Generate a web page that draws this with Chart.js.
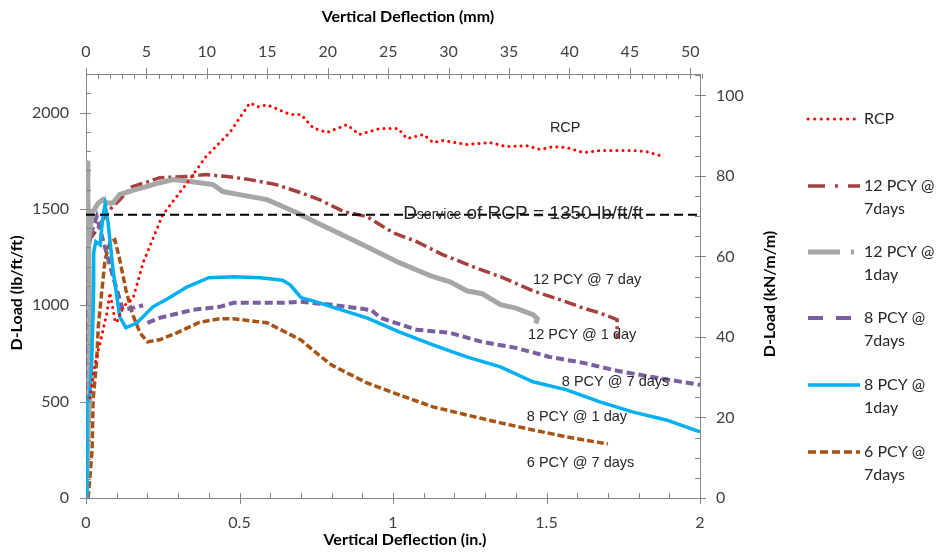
<!DOCTYPE html>
<html>
<head>
<meta charset="utf-8">
<script src="https://cdn.jsdelivr.net/npm/chart.js@4/dist/chart.umd.min.js"></script>
<style>
  html, body { margin: 0; padding: 0; background: #ffffff; }
  canvas { display: block; }
</style>
</head>
<body>
<canvas id="grafico" width="943" height="559"></canvas>
<script>
// tick labels
const xInTicks = [0, 0.5, 1, 1.5, 2];
const xMmTicks = [0, 5, 10, 15, 20, 25, 30, 35, 40, 45, 50];
const yLbTicks = [0, 500, 1000, 1500, 2000];
const yKnTicks = [0, 20, 40, 60, 80, 100];

// series (x in inches, y in lb/ft/ft)
const rcpX = [0.013, 0.03, 0.046, 0.068, 0.078, 0.094, 0.1, 0.12, 0.153, 0.186, 0.25, 0.33, 0.39, 0.47, 0.534, 0.56, 0.59, 0.62, 0.665, 0.7, 0.74, 0.785, 0.85, 0.89, 0.958, 1.017, 1.045, 1.1, 1.13, 1.163, 1.24, 1.316, 1.37, 1.435, 1.48, 1.52, 1.566, 1.62, 1.675, 1.78, 1.826, 1.88];
const rcpY = [520, 700, 805, 960, 1065, 925, 909, 992, 1034, 1220, 1470, 1636, 1770, 1900, 2050, 2030, 2040, 2020, 1990, 1990, 1920, 1896, 1937, 1886, 1917, 1917, 1865, 1886, 1844, 1855, 1834, 1844, 1823, 1828, 1808, 1823, 1818, 1792, 1803, 1803, 1797, 1772];

const p12d7X = [0, 0.004, 0.01, 0.02, 0.035, 0.055, 0.08, 0.11, 0.15, 0.2, 0.24, 0.33, 0.39, 0.46, 0.534, 0.62, 0.7, 0.76, 0.84, 0.915, 1.0, 1.077, 1.163, 1.26, 1.35, 1.456, 1.544, 1.62, 1.674, 1.73, 1.73];
const p12d7Y = [1750, 1600, 1420, 1360, 1390, 1444, 1500, 1548, 1615, 1640, 1662, 1668, 1678, 1668, 1652, 1626, 1584, 1548, 1486, 1460, 1377, 1330, 1262, 1200, 1148, 1075, 1029, 985, 960, 925, 830];

const p12d1X = [0, 0.01, 0.012, 0.004, 0.006, 0.01, 0.02, 0.04, 0.055, 0.07, 0.088, 0.11, 0.13, 0.16, 0.186, 0.24, 0.283, 0.34, 0.414, 0.446, 0.5, 0.59, 0.665, 0.7, 0.75, 0.8, 0.915, 1.02, 1.13, 1.186, 1.24, 1.29, 1.35, 1.4, 1.456, 1.47, 1.465];
const p12d1Y = [0, 500, 1000, 1750, 1550, 1350, 1480, 1530, 1548, 1530, 1532, 1575, 1584, 1600, 1610, 1636, 1652, 1642, 1626, 1590, 1574, 1548, 1496, 1470, 1429, 1392, 1304, 1221, 1148, 1122, 1075, 1060, 1003, 985, 951, 930, 905];

const p8d7X = [0, 0.002, 0.003, 0.0, 0.02, 0.035, 0.055, 0.088, 0.12, 0.15, 0.186, 0.193, 0.2, 0.24, 0.35, 0.436, 0.48, 0.64, 0.7, 0.8, 0.93, 0.958, 1.077, 1.186, 1.29, 1.4, 1.51, 1.62, 1.73, 1.84, 2.0];
const p8d7Y = [0, 600, 1000, 1236, 1392, 1460, 1340, 1148, 977, 985, 1000, null, 909, 935, 977, 992, 1013, 1013, 1018, 1003, 975, 935, 873, 857, 810, 779, 732, 701, 660, 629, 587];

const p8d1X = [0, 0.003, 0.013, 0.018, 0.022, 0.025, 0.025, 0.032, 0.046, 0.055, 0.062, 0.072, 0.088, 0.11, 0.13, 0.166, 0.218, 0.26, 0.33, 0.4, 0.48, 0.567, 0.64, 0.665, 0.687, 0.7, 0.75, 0.8, 0.915, 1.02, 1.13, 1.24, 1.35, 1.456, 1.566, 1.674, 1.78, 1.89, 2.0];
const p8d1Y = [0, 490, 545, 680, 890, 1100, 1273, 1330, 1314, 1460, 1522, 1429, 1184, 940, 883, 909, 992, 1029, 1096, 1143, 1148, 1143, 1130, 1106, 1065, 1040, 1018, 992, 935, 862, 795, 732, 680, 603, 561, 499, 447, 405, 343];

const p6d7X = [0.007, 0.02, 0.023, 0.035, 0.04, 0.05, 0.062, 0.078, 0.094, 0.11, 0.13, 0.15, 0.176, 0.2, 0.24, 0.296, 0.37, 0.436, 0.48, 0.59, 0.7, 0.76, 0.8, 0.915, 1.02, 1.13, 1.24, 1.35, 1.456, 1.566, 1.7];
const p6d7Y = [0, 250, 509, 717, 888, 1050, 1236, 1325, 1340, 1236, 1080, 961, 857, 810, 821, 857, 912, 930, 930, 909, 820, 740, 690, 597, 535, 473, 431, 390, 353, 317, 280];

const serviceX = [0, 2];
const serviceY = [1470, 1470];

const legendLabels = [["RCP"], ["12 PCY @", "7days"], ["12 PCY @", "1day"], ["8 PCY @", "7days"], ["8 PCY @", "1day"], ["6 PCY @", "7days"]];
const noteLabels = ["RCP", "12 PCY @ 7 day", "12 PCY @ 1 day", "8 PCY @ 7 days", "8 PCY @ 1 day", "6 PCY @ 7 days"];

const LB_TO_KN = 0.04788;
const Y_MAX = 2200;

function pares(xs, ys) {
  return xs.map((x, i) => ({ x: x, y: ys[i] }));
}

const estilos = [
  { color: "#FF0000", width: 3, dash: [0.1, 6], cap: "round", legendDash: [0.1, 6.5] },
  { color: "#A5403C", width: 3.5, dash: [12, 4, 3, 4], cap: "butt", legendDash: [17, 10, 3, 10] },
  { color: "#A6A6A6", width: 5, dash: [], cap: "butt", legendDash: [32, 11, 3, 11] },
  { color: "#7A5F9E", width: 4, dash: [8, 4], cap: "butt", legendDash: [15, 13] },
  { color: "#00B0F0", width: 3.5, dash: [], cap: "butt", legendDash: [] },
  { color: "#A65314", width: 3.5, dash: [7, 3], cap: "butt", legendDash: [8, 4] }
];

const datos = [
  pares(rcpX, rcpY), pares(p12d7X, p12d7Y), pares(p12d1X, p12d1Y),
  pares(p8d7X, p8d7Y), pares(p8d1X, p8d1Y), pares(p6d7X, p6d7Y)
];
const ordenDibujo = [1, 5, 3, 4, 2, 6];

const datasets = datos.map((d, i) => ({
  label: legendLabels[i].join(" "),
  data: d,
  borderColor: estilos[i].color,
  borderWidth: estilos[i].width,
  borderDash: estilos[i].dash,
  borderCapStyle: estilos[i].cap,
  pointRadius: 0,
  tension: 0,
  spanGaps: false,
  order: ordenDibujo[i],
  xAxisID: "x",
  yAxisID: "y"
}));
datasets.push({
  label: "service",
  data: pares(serviceX, serviceY),
  borderColor: "#000000",
  borderWidth: 2,
  borderDash: [9, 5],
  pointRadius: 0,
  order: 0,
  xAxisID: "x",
  yAxisID: "y"
});

const notas = [
  { x: 1.511, y: 1922 },
  { x: 1.456, y: 1132 },
  { x: 1.44, y: 847 },
  { x: 1.55, y: 603 },
  { x: 1.436, y: 421 },
  { x: 1.436, y: 182 }
];

const EJE = "#868686";
const TEXTO = "#404040";

const decoracion = {
  id: "decoracion",
  afterDraw(chart) {
    const ctx = chart.ctx;
    const a = chart.chartArea;
    const s = chart.scales;
    ctx.save();

    // ticks: major cross, minor inside
    ctx.strokeStyle = EJE;
    ctx.lineWidth = 1;
    function marcas(scale, paso, mayores, lado) {
      const n = Math.round((scale.max - scale.min) / paso);
      for (let k = 0; k <= n; k++) {
        const v = scale.min + k * paso;
        const esMayor = mayores.some(m => Math.abs(m - v) < paso / 10);
        const p = Math.round(scale.getPixelForValue(v)) + 0.5;
        ctx.beginPath();
        if (lado === "bottom") {
          ctx.moveTo(p, a.bottom - 5); ctx.lineTo(p, a.bottom + (esMayor ? 6 : 0));
        } else if (lado === "top") {
          ctx.moveTo(p, a.top + 5); ctx.lineTo(p, a.top - (esMayor ? 6 : 0));
        } else if (lado === "left") {
          ctx.moveTo(a.left + 5, p); ctx.lineTo(a.left - (esMayor ? 6 : 0), p);
        } else {
          ctx.moveTo(a.right - 5, p); ctx.lineTo(a.right + (esMayor ? 6 : 0), p);
        }
        ctx.stroke();
      }
    }
    marcas(s.x, 0.1, xInTicks, "bottom");
    marcas(s.x2, 1, xMmTicks, "top");
    marcas(s.y, 100, yLbTicks, "left");
    marcas(s.y2, 5, yKnTicks, "right");

    // axis titles
    ctx.fillStyle = "#000000";
    ctx.font = "bold 16px Lato";
    ctx.textAlign = "center";
    ctx.textBaseline = "middle";
    ctx.fillText("Vertical Deflection (mm)", 408, 17);
    ctx.fillText("Vertical Deflection (in.)", 405, 540);
    ctx.save();
    ctx.translate(17, 293);
    ctx.rotate(-Math.PI / 2);
    ctx.fillText("D-Load (lb/ft/ft)", 0, 0);
    ctx.restore();
    ctx.save();
    ctx.translate(770, 294);
    ctx.rotate(-Math.PI / 2);
    ctx.fillText("D-Load (kN/m/m)", 0, 0);
    ctx.restore();

    // curve notes
    ctx.fillStyle = "#262626";
    ctx.font = "14.5px 'Liberation Sans'";
    ctx.textAlign = "left";
    notas.forEach((n, i) => {
      ctx.fillText(noteLabels[i], s.x.getPixelForValue(n.x), s.y.getPixelForValue(n.y));
    });

    // service line label
    ctx.textBaseline = "alphabetic";
    let px = s.x.getPixelForValue(1.033);
    const py = s.y.getPixelForValue(1448);
    ctx.font = "19px 'Liberation Sans'";
    ctx.fillText("D", px, py);
    px += ctx.measureText("D").width;
    ctx.font = "14px 'Liberation Sans'";
    ctx.fillText("service", px, py);
    px += ctx.measureText("service").width;
    ctx.font = "19px 'Liberation Sans'";
    ctx.fillText(" of RCP = 1350 lb/ft/ft", px, py);

    // legend
    const filaY = [119, 186, 252, 318, 385, 452];
    ctx.font = "16px Lato";
    ctx.textBaseline = "middle";
    legendLabels.forEach((lineas, i) => {
      const e = estilos[i];
      ctx.strokeStyle = e.color;
      ctx.lineWidth = e.width;
      ctx.lineCap = e.cap;
      ctx.setLineDash(e.legendDash);
      ctx.beginPath();
      ctx.moveTo(808, filaY[i]);
      ctx.lineTo(860, filaY[i]);
      ctx.stroke();
      ctx.setLineDash([]);
      ctx.lineCap = "butt";
      ctx.fillStyle = "#262626";
      lineas.forEach((t, j) => ctx.fillText(t, 864, filaY[i] + j * 23));
    });

    ctx.restore();
  }
};

function fijarTicks(valores) {
  return scale => { scale.ticks = valores.map(v => ({ value: v })); };
}

const fuenteTicks = { family: "Lato", size: 16 };

new Chart(document.getElementById("grafico"), {
  type: "line",
  data: { datasets: datasets },
  options: {
    responsive: false,
    devicePixelRatio: 1,
    animation: false,
    layout: { padding: { left: 0, right: 183, top: 0, bottom: 0 } },
    plugins: { legend: { display: false }, tooltip: { enabled: false } },
    scales: {
      x: {
        type: "linear", position: "bottom", min: 0, max: 2,
        afterBuildTicks: fijarTicks(xInTicks),
        afterFit: sc => { sc.height = 61; },
        ticks: { color: TEXTO, font: fuenteTicks, padding: 9, maxRotation: 0, callback: v => String(v) },
        grid: { display: false, tickLength: 6 },
        border: { display: true, color: EJE }
      },
      x2: {
        type: "linear", position: "top", min: 0, max: 2 * 25.4,
        afterBuildTicks: fijarTicks(xMmTicks),
        afterFit: sc => { sc.height = 74; },
        ticks: { color: TEXTO, font: fuenteTicks, padding: 7, maxRotation: 0, callback: v => String(v) },
        grid: { display: false, tickLength: 6 },
        border: { display: true, color: EJE }
      },
      y: {
        type: "linear", position: "left", min: 0, max: Y_MAX,
        afterBuildTicks: fijarTicks(yLbTicks),
        afterFit: sc => { sc.width = 86; },
        ticks: { color: TEXTO, font: fuenteTicks, padding: 11, callback: v => String(v) },
        grid: { display: false, tickLength: 6 },
        border: { display: true, color: EJE }
      },
      y2: {
        type: "linear", position: "right", min: 0, max: Y_MAX * LB_TO_KN,
        afterBuildTicks: fijarTicks(yKnTicks),
        afterFit: sc => { sc.width = 60; },
        ticks: { color: TEXTO, font: fuenteTicks, padding: 10, callback: v => String(v) },
        grid: { display: false, tickLength: 6 },
        border: { display: true, color: EJE }
      }
    }
  },
  plugins: [decoracion]
});
</script>
</body>
</html>
